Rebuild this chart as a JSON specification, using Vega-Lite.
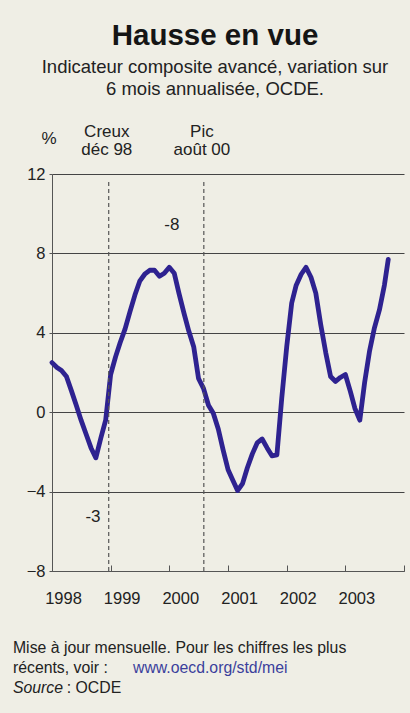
{
  "$schema": "https://vega.github.io/schema/vega-lite/v6.json",
  "width": 352,
  "height": 397,
  "autosize": {"type": "none"},
  "padding": {"left": 52, "top": 174, "right": 6, "bottom": 142},
  "background": "#efeee5",
  "title": {
    "text": "Hausse en vue",
    "subtitle": ["Indicateur composite avancé, variation sur", "6 mois annualisée, OCDE."],
    "anchor": "middle",
    "frame": "group",
    "dx": -13,
    "offset": 23,
    "font": "Liberation Sans",
    "fontSize": 29.5,
    "fontWeight": "bold",
    "color": "#151515",
    "subtitleFont": "Liberation Sans",
    "subtitleFontSize": 18.5,
    "subtitleColor": "#222222",
    "subtitleLineHeight": 22,
    "subtitlePadding": 7
  },
  "config": {
    "view": {"stroke": null},
    "font": "Liberation Sans",
    "axis": {
      "labelFont": "Liberation Sans",
      "labelFontSize": 16.5,
      "labelColor": "#222222",
      "domainColor": "#555555",
      "tickColor": "#555555",
      "title": null
    }
  },
  "datasets": {
    "series": [
      {"date": "1998-01-01", "value": 2.5},
      {"date": "1998-02-01", "value": 2.25},
      {"date": "1998-03-01", "value": 2.1},
      {"date": "1998-04-01", "value": 1.8},
      {"date": "1998-05-01", "value": 1.1},
      {"date": "1998-06-01", "value": 0.35},
      {"date": "1998-07-01", "value": -0.4},
      {"date": "1998-08-01", "value": -1.1},
      {"date": "1998-09-01", "value": -1.8},
      {"date": "1998-10-01", "value": -2.3},
      {"date": "1998-11-01", "value": -1.3},
      {"date": "1998-12-01", "value": -0.4},
      {"date": "1999-01-01", "value": 1.9},
      {"date": "1999-02-01", "value": 2.8},
      {"date": "1999-03-01", "value": 3.5},
      {"date": "1999-04-01", "value": 4.2},
      {"date": "1999-05-01", "value": 5.05},
      {"date": "1999-06-01", "value": 5.9},
      {"date": "1999-07-01", "value": 6.6},
      {"date": "1999-08-01", "value": 6.95},
      {"date": "1999-09-01", "value": 7.15},
      {"date": "1999-10-01", "value": 7.15},
      {"date": "1999-11-01", "value": 6.85},
      {"date": "1999-12-01", "value": 7.0},
      {"date": "2000-01-01", "value": 7.3},
      {"date": "2000-02-01", "value": 7.0},
      {"date": "2000-03-01", "value": 6.0},
      {"date": "2000-04-01", "value": 5.0},
      {"date": "2000-05-01", "value": 4.1},
      {"date": "2000-06-01", "value": 3.3},
      {"date": "2000-07-01", "value": 1.7},
      {"date": "2000-08-01", "value": 1.2},
      {"date": "2000-09-01", "value": 0.35},
      {"date": "2000-10-01", "value": -0.05},
      {"date": "2000-11-01", "value": -0.85},
      {"date": "2000-12-01", "value": -1.9},
      {"date": "2001-01-01", "value": -2.9},
      {"date": "2001-02-01", "value": -3.45},
      {"date": "2001-03-01", "value": -3.95},
      {"date": "2001-04-01", "value": -3.6},
      {"date": "2001-05-01", "value": -2.8},
      {"date": "2001-06-01", "value": -2.1},
      {"date": "2001-07-01", "value": -1.55},
      {"date": "2001-08-01", "value": -1.35},
      {"date": "2001-09-01", "value": -1.8},
      {"date": "2001-10-01", "value": -2.2},
      {"date": "2001-11-01", "value": -2.15},
      {"date": "2001-12-01", "value": 0.7},
      {"date": "2002-01-01", "value": 3.3},
      {"date": "2002-02-01", "value": 5.5},
      {"date": "2002-03-01", "value": 6.4},
      {"date": "2002-04-01", "value": 6.95},
      {"date": "2002-05-01", "value": 7.3},
      {"date": "2002-06-01", "value": 6.8},
      {"date": "2002-07-01", "value": 6.0},
      {"date": "2002-08-01", "value": 4.4},
      {"date": "2002-09-01", "value": 3.0},
      {"date": "2002-10-01", "value": 1.8},
      {"date": "2002-11-01", "value": 1.55},
      {"date": "2002-12-01", "value": 1.75},
      {"date": "2003-01-01", "value": 1.9},
      {"date": "2003-02-01", "value": 1.05},
      {"date": "2003-03-01", "value": 0.2},
      {"date": "2003-04-01", "value": -0.4},
      {"date": "2003-05-01", "value": 1.5},
      {"date": "2003-06-01", "value": 3.1},
      {"date": "2003-07-01", "value": 4.25},
      {"date": "2003-08-01", "value": 5.15},
      {"date": "2003-09-01", "value": 6.4},
      {"date": "2003-09-25", "value": 7.7}
    ],
    "turns": [
      {"date": "1998-12-20", "top": 11.6, "bottom": -8, "kind": "Creux"},
      {"date": "2000-08-03", "top": 11.6, "bottom": -8, "kind": "Pic"}
    ],
    "notes": [
      {"role": "marker", "date": "1997-12-13", "value": 13.75, "label": "%"},
      {"role": "marker", "date": "1998-12-08", "value": 14.14, "label": "Creux"},
      {"role": "marker", "date": "1998-12-08", "value": 13.2, "label": "déc 98"},
      {"role": "marker", "date": "2000-07-22", "value": 14.14, "label": "Pic"},
      {"role": "marker", "date": "2000-07-22", "value": 13.2, "label": "août 00"},
      {"role": "marker", "date": "2000-01-17", "value": 9.43, "label": "-8"},
      {"role": "marker", "date": "1998-09-13", "value": -5.28, "label": "-3"},
      {"role": "foot", "date": "1997-05-03", "value": -12.13, "label": "Mise à jour mensuelle. Pour les chiffres les plus"},
      {"role": "foot", "date": "1997-05-03", "value": -13.14, "label": "récents, voir :"},
      {"role": "link", "date": "1999-05-20", "value": -13.14, "label": "www.oecd.org/std/mei"},
      {"role": "source", "date": "1997-05-03", "value": -14.15, "label": "Source"},
      {"role": "foot", "date": "1998-04-03", "value": -14.15, "label": ": OCDE"}
    ]
  },
  "layer": [
    {
      "data": {"name": "series"},
      "mark": {"type": "line", "color": "#2e2290", "strokeWidth": 4.8, "strokeJoin": "round", "strokeCap": "round"},
      "encoding": {
        "x": {
          "field": "date",
          "type": "temporal",
          "scale": {"type": "utc", "domain": [{"year": 1998, "month": 1, "date": 1, "utc": true}, {"year": 2004, "month": 1, "date": 1, "utc": true}]},
          "axis": {
            "values": [
              {"year": 1998, "month": 1, "date": 1, "utc": true},
              {"year": 1999, "month": 1, "date": 1, "utc": true},
              {"year": 2000, "month": 1, "date": 1, "utc": true},
              {"year": 2001, "month": 1, "date": 1, "utc": true},
              {"year": 2002, "month": 1, "date": 1, "utc": true},
              {"year": 2003, "month": 1, "date": 1, "utc": true},
              {"year": 2004, "month": 1, "date": 1, "utc": true}
            ],
            "format": "%Y",
            "labelExpr": "utcyear(datum.value) >= 2004 ? '' : datum.label",
            "grid": false,
            "tickSize": -6,
            "labelPadding": 25,
            "labelOffset": 11,
            "labelFlush": false,
            "labelOverlap": false
          }
        },
        "y": {
          "field": "value",
          "type": "quantitative",
          "scale": {"domain": [-8, 12], "nice": false, "zero": false},
          "axis": {
            "values": [-8, -4, 0, 4, 8, 12],
            "grid": true,
            "gridColor": "#444444",
            "gridWidth": 1,
            "gridOpacity": 1,
            "tickSize": 3,
            "labelPadding": 4
          }
        }
      }
    },
    {
      "data": {"name": "turns"},
      "mark": {"type": "rule", "color": "#555555", "strokeWidth": 1.2, "strokeDash": [4, 3]},
      "encoding": {
        "x": {"field": "date", "type": "temporal"},
        "y": {"field": "bottom", "type": "quantitative"},
        "y2": {"field": "top"}
      }
    },
    {
      "mark": {"type": "rule", "color": "#111111", "strokeWidth": 2.2},
      "encoding": {
        "y": {"datum": 0, "type": "quantitative"}
      }
    },
    {
      "data": {"name": "notes"},
      "transform": [{"filter": "datum.role === 'marker'"}],
      "mark": {"type": "text", "font": "Liberation Sans", "fontSize": 17, "color": "#222222", "align": "center", "baseline": "middle"},
      "encoding": {
        "x": {"field": "date", "type": "temporal"},
        "y": {"field": "value", "type": "quantitative"},
        "text": {"field": "label"}
      }
    },
    {
      "data": {"name": "notes"},
      "transform": [{"filter": "datum.role === 'foot'"}],
      "mark": {"type": "text", "font": "Liberation Sans", "fontSize": 15.8, "color": "#222222", "align": "left", "baseline": "alphabetic"},
      "encoding": {
        "x": {"field": "date", "type": "temporal"},
        "y": {"field": "value", "type": "quantitative"},
        "text": {"field": "label"}
      }
    },
    {
      "data": {"name": "notes"},
      "transform": [{"filter": "datum.role === 'link'"}],
      "mark": {"type": "text", "font": "Liberation Sans", "fontSize": 15.8, "color": "#3b3f9c", "align": "left", "baseline": "alphabetic"},
      "encoding": {
        "x": {"field": "date", "type": "temporal"},
        "y": {"field": "value", "type": "quantitative"},
        "text": {"field": "label"}
      }
    },
    {
      "data": {"name": "notes"},
      "transform": [{"filter": "datum.role === 'source'"}],
      "mark": {"type": "text", "font": "Liberation Sans", "fontSize": 15.8, "fontStyle": "italic", "color": "#222222", "align": "left", "baseline": "alphabetic"},
      "encoding": {
        "x": {"field": "date", "type": "temporal"},
        "y": {"field": "value", "type": "quantitative"},
        "text": {"field": "label"}
      }
    }
  ]
}
